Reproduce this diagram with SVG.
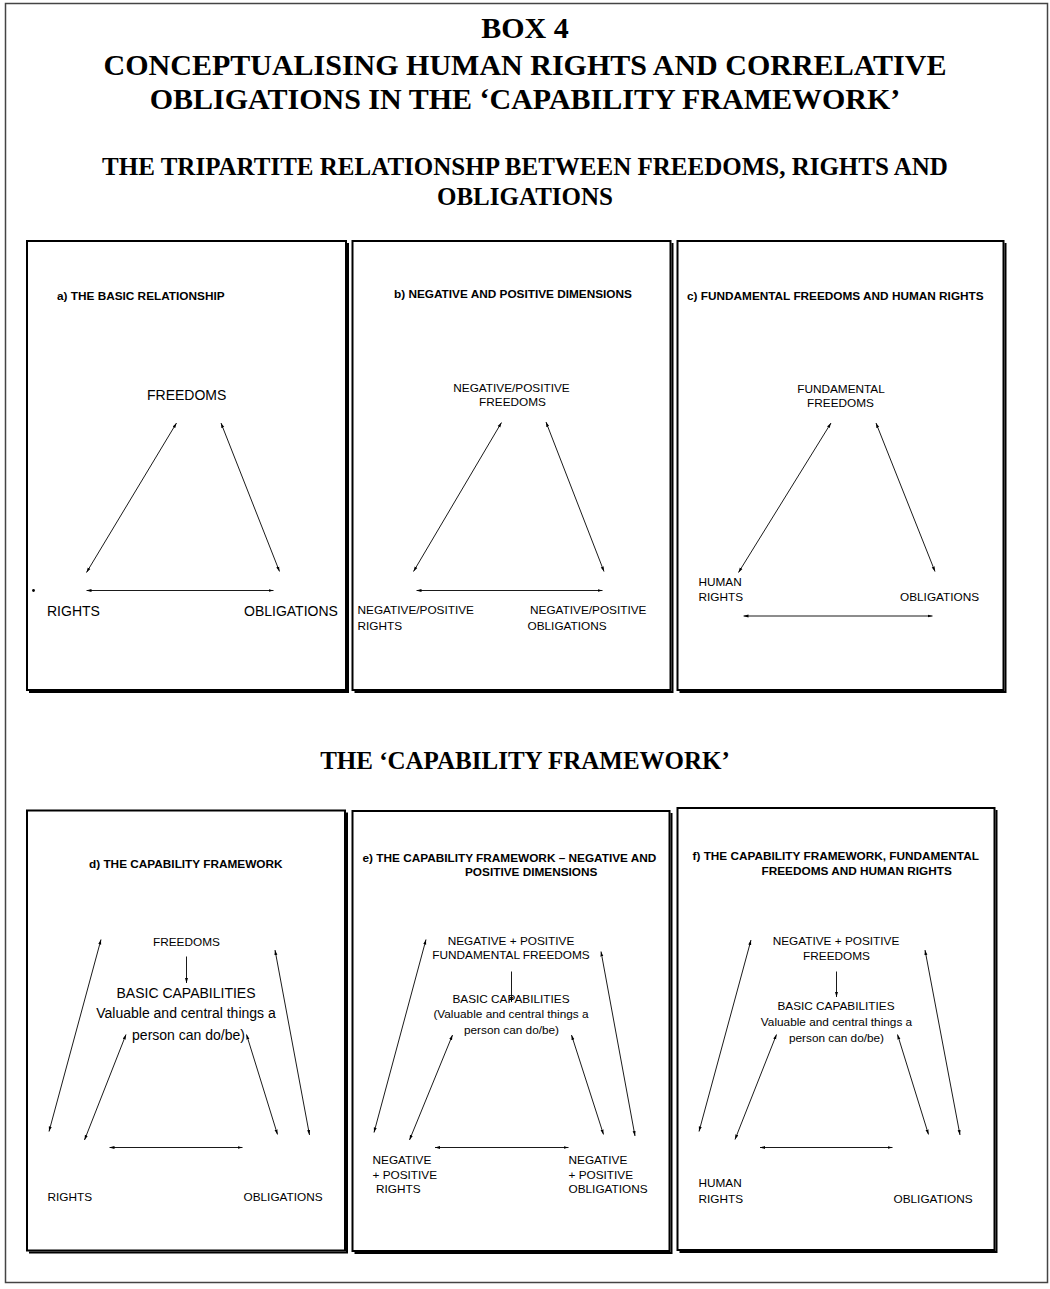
<svg xmlns="http://www.w3.org/2000/svg" width="1050" height="1289" viewBox="0 0 1050 1289">
<defs>
<style>
.frame{fill:none;stroke:#444;stroke-width:1.5}
.pb{fill:#fff;stroke:#000;stroke-width:2}
.sh{fill:none;stroke:#000;stroke-width:2}
.t1{font-family:"Liberation Serif","Times New Roman",serif;font-weight:bold;font-size:30px;text-anchor:middle;fill:#000}
.t2{font-family:"Liberation Serif","Times New Roman",serif;font-weight:bold;font-size:25px;text-anchor:middle;fill:#000}
.h{font-family:"Liberation Sans",Arial,sans-serif;font-weight:bold;font-size:11.8px;fill:#000}
.l14{font-family:"Liberation Sans",Arial,sans-serif;font-size:14px;fill:#000}
.l12{font-family:"Liberation Sans",Arial,sans-serif;font-size:11.8px;fill:#000}
.c{stroke:#000;stroke-width:0.9;fill:none}
.dbl{marker-start:url(#ah);marker-end:url(#ah)}
.one{marker-end:url(#ah)}
</style>
<marker id="ah" viewBox="0 0 10 8" refX="10" refY="4" markerWidth="5" markerHeight="4" orient="auto-start-reverse" markerUnits="userSpaceOnUse">
<path d="M0,1 L10,4 L0,7 z" fill="#000"/>
</marker>
</defs>
<rect width="1050" height="1289" fill="#fff"/>
<rect class="frame" x="5.5" y="3.5" width="1042" height="1279"/>

<g id="title">
<text class="t1" x="525" y="38">BOX 4</text>
<text class="t1" x="525" y="75">CONCEPTUALISING HUMAN RIGHTS AND CORRELATIVE</text>
<text class="t1" x="525" y="109">OBLIGATIONS IN THE ‘CAPABILITY FRAMEWORK’</text>
</g>
<g id="subtitle1">
<text class="t2" x="525" y="175">THE TRIPARTITE RELATIONSHP BETWEEN FREEDOMS, RIGHTS AND</text>
<text class="t2" x="525" y="205">OBLIGATIONS</text>
</g>
<g id="subtitle2">
<text class="t2" x="525" y="769">THE ‘CAPABILITY FRAMEWORK’</text>
</g>

<!-- Panel frames -->
<g id="panel-a-frame"><rect class="pb" x="27" y="241" width="319" height="449"/><path class="sh" d="M348,243 V692 H29"/></g>
<g id="panel-b-frame"><rect class="pb" x="352.5" y="241" width="318" height="449"/><path class="sh" d="M672.5,243 V692 H354.5"/></g>
<g id="panel-c-frame"><rect class="pb" x="677.5" y="241" width="326" height="449"/><path class="sh" d="M1005.5,243 V692 H679.5"/></g>
<g id="panel-d-frame"><rect class="pb" x="27" y="810.5" width="318" height="440"/><path class="sh" d="M347,812.5 V1252.5 H29"/></g>
<g id="panel-e-frame"><rect class="pb" x="352.5" y="811" width="317" height="440"/><path class="sh" d="M671.5,813 V1253 H354.5"/></g>
<g id="panel-f-frame"><rect class="pb" x="677.5" y="808" width="317" height="442"/><path class="sh" d="M996.5,810 V1252 H679.5"/></g>

<!-- Panel a -->
<g id="a-title"><text class="h" x="57" y="300">a) THE BASIC RELATIONSHIP</text></g>
<g id="a-freedoms"><text class="l14" x="147" y="400">FREEDOMS</text></g>
<g id="a-rights"><text class="l14" x="47" y="616">RIGHTS</text></g>
<g id="a-obligations"><text class="l14" x="244" y="616">OBLIGATIONS</text></g>
<g id="a-dot"><circle cx="33.5" cy="590.5" r="1.4" fill="#000"/></g>

<!-- Panel b -->
<g id="b-title"><text class="h" x="394" y="298">b) NEGATIVE AND POSITIVE DIMENSIONS</text></g>
<g id="b-freedoms"><text class="l12" x="511.5" y="392" text-anchor="middle">NEGATIVE/POSITIVE</text><text class="l12" x="512.5" y="406" text-anchor="middle">FREEDOMS</text></g>
<g id="b-rights"><text class="l12" x="357.5" y="614">NEGATIVE/POSITIVE</text><text class="l12" x="357.5" y="630">RIGHTS</text></g>
<g id="b-obligations"><text class="l12" x="530" y="614">NEGATIVE/POSITIVE</text><text class="l12" x="527.5" y="630">OBLIGATIONS</text></g>

<!-- Panel c -->
<g id="c-title"><text class="h" x="687" y="300">c) FUNDAMENTAL FREEDOMS AND HUMAN RIGHTS</text></g>
<g id="c-freedoms"><text class="l12" x="841" y="393" text-anchor="middle">FUNDAMENTAL</text><text class="l12" x="840.5" y="407" text-anchor="middle">FREEDOMS</text></g>
<g id="c-rights"><text class="l12" x="698.5" y="586">HUMAN</text><text class="l12" x="698.5" y="601">RIGHTS</text></g>
<g id="c-obligations"><text class="l12" x="900" y="601">OBLIGATIONS</text></g>

<!-- Panel d -->
<g id="d-title"><text class="h" x="89" y="868">d) THE CAPABILITY FRAMEWORK</text></g>
<g id="d-freedoms"><text class="l12" x="153" y="946">FREEDOMS</text></g>
<g id="d-capabilities"><text class="l14" x="186" y="998" text-anchor="middle">BASIC CAPABILITIES</text><text class="l14" x="186" y="1018" text-anchor="middle">Valuable and central things a</text><text class="l14" x="188.5" y="1040" text-anchor="middle">person can do/be)</text></g>
<g id="d-rights"><text class="l12" x="47.5" y="1201">RIGHTS</text></g>
<g id="d-obligations"><text class="l12" x="243.5" y="1201">OBLIGATIONS</text></g>

<!-- Panel e -->
<g id="e-title"><text class="h" x="362.5" y="862">e) THE CAPABILITY FRAMEWORK – NEGATIVE AND</text><text class="h" x="465" y="876">POSITIVE DIMENSIONS</text></g>
<g id="e-freedoms"><text class="l12" x="511" y="945" text-anchor="middle">NEGATIVE + POSITIVE</text><text class="l12" x="511" y="959" text-anchor="middle">FUNDAMENTAL FREEDOMS</text></g>
<g id="e-capabilities"><text class="l12" x="511" y="1003" text-anchor="middle">BASIC CAPABILITIES</text><text class="l12" x="511" y="1018" text-anchor="middle">(Valuable and central things a</text><text class="l12" x="511.5" y="1034" text-anchor="middle">person can do/be)</text></g>
<g id="e-rights"><text class="l12" x="372.5" y="1164">NEGATIVE</text><text class="l12" x="372.5" y="1179">+ POSITIVE</text><text class="l12" x="376" y="1193">RIGHTS</text></g>
<g id="e-obligations"><text class="l12" x="568.5" y="1164">NEGATIVE</text><text class="l12" x="568.5" y="1179">+ POSITIVE</text><text class="l12" x="568.5" y="1193">OBLIGATIONS</text></g>

<!-- Panel f -->
<g id="f-title"><text class="h" x="692.5" y="860">f) THE CAPABILITY FRAMEWORK, FUNDAMENTAL</text><text class="h" x="761.5" y="875">FREEDOMS AND HUMAN RIGHTS</text></g>
<g id="f-freedoms"><text class="l12" x="836" y="945" text-anchor="middle">NEGATIVE + POSITIVE</text><text class="l12" x="836.5" y="960" text-anchor="middle">FREEDOMS</text></g>
<g id="f-capabilities"><text class="l12" x="836" y="1010" text-anchor="middle">BASIC CAPABILITIES</text><text class="l12" x="836.5" y="1026" text-anchor="middle">Valuable and central things a</text><text class="l12" x="836.5" y="1042" text-anchor="middle">person can do/be)</text></g>
<g id="f-rights"><text class="l12" x="698.5" y="1187">HUMAN</text><text class="l12" x="698.5" y="1203">RIGHTS</text></g>
<g id="f-obligations"><text class="l12" x="893.5" y="1203">OBLIGATIONS</text></g>

<g id="connectors">
<!-- a -->
<line class="c dbl" x1="176.5" y1="423" x2="86.5" y2="572.5"/>
<line class="c dbl" x1="221" y1="423" x2="279.5" y2="571.5"/>
<line class="c dbl" x1="86.5" y1="590.5" x2="273.5" y2="590.5"/>
<!-- b -->
<line class="c dbl" x1="501.5" y1="422.5" x2="413.5" y2="571.5"/>
<line class="c dbl" x1="546" y1="422" x2="604" y2="571.5"/>
<line class="c dbl" x1="416.5" y1="590.5" x2="602.5" y2="590.5"/>
<!-- c -->
<line class="c dbl" x1="831" y1="423" x2="738.5" y2="572.5"/>
<line class="c dbl" x1="876" y1="423" x2="935" y2="571.5"/>
<line class="c dbl" x1="743.5" y1="616" x2="932.5" y2="616"/>
<!-- d -->
<line class="c dbl" x1="101" y1="939.5" x2="49" y2="1131.5"/>
<line class="c dbl" x1="275" y1="950" x2="309.5" y2="1135"/>
<line class="c one" x1="186.5" y1="956.5" x2="186.5" y2="983"/>
<line class="c dbl" x1="126" y1="1034.5" x2="84.5" y2="1140"/>
<line class="c dbl" x1="246.5" y1="1034.5" x2="277.5" y2="1134.5"/>
<line class="c dbl" x1="109.5" y1="1147.5" x2="242.5" y2="1147.5"/>
<!-- e -->
<line class="c dbl" x1="426" y1="939.5" x2="374" y2="1132.5"/>
<line class="c dbl" x1="601" y1="951.5" x2="635" y2="1136"/>
<line class="c one" x1="511.5" y1="971.5" x2="511.5" y2="1002"/>
<line class="c dbl" x1="452.5" y1="1035" x2="409.5" y2="1140"/>
<line class="c dbl" x1="571.5" y1="1035" x2="603.5" y2="1134.5"/>
<line class="c dbl" x1="435" y1="1147.5" x2="568.5" y2="1147.5"/>
<!-- f -->
<line class="c dbl" x1="751" y1="940" x2="699" y2="1131.5"/>
<line class="c dbl" x1="925" y1="950" x2="960" y2="1135"/>
<line class="c one" x1="836.5" y1="971.5" x2="836.5" y2="997"/>
<line class="c dbl" x1="776.5" y1="1034.5" x2="735" y2="1139.5"/>
<line class="c dbl" x1="897.5" y1="1034.5" x2="928.5" y2="1134.5"/>
<line class="c dbl" x1="760" y1="1147.5" x2="892.5" y2="1147.5"/>
</g>
</svg>
